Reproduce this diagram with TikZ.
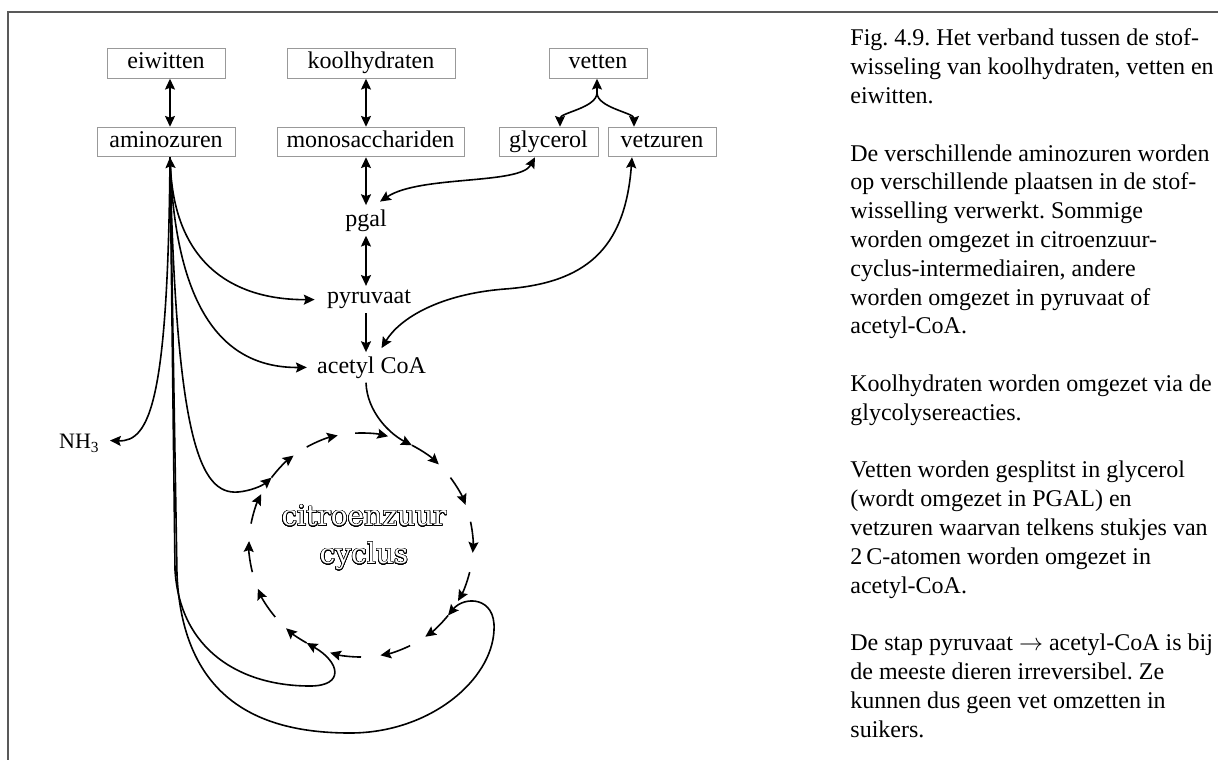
\documentclass[tikz,border=0pt]{standalone}
\usepackage{fontspec}
\setmainfont{Liberation Serif}
\newfontfamily\cyclefont{DejaVu Serif}
\usepackage{contour}
\contourlength{0.28pt}
\contournumber{32}
\usetikzlibrary{arrows.meta,calc}

% hollow lettering for the cycle name: white letters with a thin black rim
\newcommand\hollowtext[1]{\contour{black}{\color{white}#1}}

\begin{document}
\frenchspacing
\begin{tikzpicture}[x=0.5pt,y=-0.5pt,
  >={Stealth[length=5.4pt,width=5pt,inset=0.9pt]},
  every node/.style={font=\fontsize{12pt}{14.4pt}\selectfont},
  conn/.style={line width=0.8pt},
  box/.style={draw=black!40, line width=0.5pt, minimum height=14.75pt, inner sep=0pt,
              text height=8pt, text depth=3pt},
  lbl/.style={inner sep=2pt},
  frame/.style={draw=black!65, line width=0.9pt}
]
\useasboundingbox (0,0) rectangle (1218,760);

% open frame along the top and the left edge
\draw[frame] (1218,12) -- (8,12) -- (8,760);

% substance boxes
\node[box,minimum width=59pt]   (eiw)   at (166,63.5)  {eiwitten};
\node[box,minimum width=69pt]   (amino) at (166,142)   {aminozuren};
\node[box,minimum width=84pt]   (kool)  at (371,63.5)  {koolhydraten};
\node[box,minimum width=93.5pt] (mono)  at (370.5,142) {monosacchariden};
\node[box,minimum width=49pt]   (vet)   at (598,63.5)  {vetten};
\node[box,minimum width=49.5pt] (gly)   at (548.5,142) {glycerol};
\node[box,minimum width=54pt]   (vetz)  at (662,142)   {vetzuren};

% intermediates
\node[lbl] (pgal) at (366,220.4)   {pgal};
\node[lbl] (pyr)  at (369,299.6)   {pyruvaat};
\node[lbl] (acet) at (371.5,367.4) {acetyl CoA};
\node[lbl,anchor=east,font=\fontsize{11pt}{13pt}\selectfont] (nh) at (104,443.5) {NH\textsubscript{3}};

% citric acid cycle
\coordinate (cyc) at (361,545);
\node[align=center,font=\cyclefont\fontsize{14pt}{19pt}\selectfont] (cname) at (364,538)
  {\hollowtext{citroenzuur}\\\hollowtext{cyclus}};

\foreach \a/\b in {241/258, 267/284, 297/314, 323/339, 348/364, 374/390, 39/55,
                   64/80, 90/106, 119/132, 140/157, 166/182, 191/207, 217/233}
  \draw[conn,->] ($(cyc)+(\a:112)$) arc[start angle=\a, end angle=\b, radius=112];

% main vertical chain
\draw[conn,<->] ([xshift=2pt]eiw.south) -- ([xshift=2pt]amino.north);
\draw[conn,<->] (kool.south -| pgal) -- (mono.north -| pgal);
\draw[conn,<->] (mono.south -| pgal) -- (pgal.north);
\draw[conn,<->] (pgal.south) -- (pgal.south |- pyr.north);
\draw[conn,->]  (pyr.south -| pgal) -- (acet.north -| pgal);

% fats split into glycerol and fatty acids
\coordinate (vb) at ($(vet.south)+(-1,14)$);
\draw[conn,->] (vb) -- (vb |- vet.south);
\draw[conn,->] (vb) .. controls +(0,15) and +(0,-14) .. ([xshift=5.75pt]gly.north);
\draw[conn,->] (vb) .. controls +(0,15) and +(0,-14) .. ([xshift=-14pt]vetz.north);

% glycerol <-> pgal, fatty acids <-> acetyl CoA
\draw[conn,<->] ([xshift=-6.75pt]gly.south) .. controls (520,185) and (420,175) .. ([xshift=7pt,yshift=1.75pt]pgal.north);
\draw[conn,<->] ([xshift=-15pt]vetz.south) .. controls (625,250) and (585,283) .. (505,289)
  .. controls (440,294) and (400,318) .. ([xshift=5pt,yshift=2pt]acet.north);

% acetyl CoA enters the cycle
\draw[conn,->] (acet.south -| pgal) .. controls (367,412) and (390,434) .. ($(cyc)+(297:112)$);

% amino acid routes
\coordinate (stem) at ([xshift=2pt]amino.south);
\draw[conn,<->] (stem) .. controls (175,270) and (240,300) .. ([xshift=-4pt]pyr.west);
\draw[conn,->] (stem) .. controls (175,320) and (230,368) .. ([xshift=-3pt]acet.west);
\draw[conn,->] (stem) .. controls (168,400) and (150,442) .. ([xshift=3pt,yshift=1.5pt]nh.east);
\draw[conn,->] (stem) .. controls (176,440) and (200,495) .. (238,492)
  .. controls (250,491) and (262,486) .. ($(cyc)+(217:112)$);
\draw[conn,->] (stem) -- (175,570) .. controls (180,650) and (240,686) .. (310,686)
  .. controls (345,686) and (340,662) .. ($(cyc)+(119:112)$);
\draw[conn,->] (stem) -- (177,575) .. controls (183,700) and (260,733) .. (350,733)
  .. controls (430,733) and (492,680) .. (494,630)
  .. controls (496,596) and (464,596) .. ($(cyc)+(39:112)$);

% caption
\node[anchor=north west, inner sep=0pt, align=left] (caption) at (850,28.6)
{Fig. 4.9. Het verband tussen de stof-\\
wisseling van koolhydraten, vetten en\\
eiwitten.\\[14.4pt]
De verschillende aminozuren worden\\
op verschillende plaatsen in de stof-\\
wisselling verwerkt. Sommige\\
worden omgezet in citroenzuur-\\
cyclus-intermediairen, andere\\
worden omgezet in pyruvaat of\\
acetyl-CoA.\\[14.4pt]
Koolhydraten worden omgezet via de\\
glycolysereacties.\\[14.4pt]
Vetten worden gesplitst in glycerol\\
(wordt omgezet in PGAL) en\\
vetzuren waarvan telkens stukjes van\\
2\,C-atomen worden omgezet in\\
acetyl-CoA.\\[14.4pt]
De stap pyruvaat $\rightarrow$ acetyl-CoA is bij\\
de meeste dieren irreversibel. Ze\\
kunnen dus geen vet omzetten in\\
suikers.};
\end{tikzpicture}
\end{document}
